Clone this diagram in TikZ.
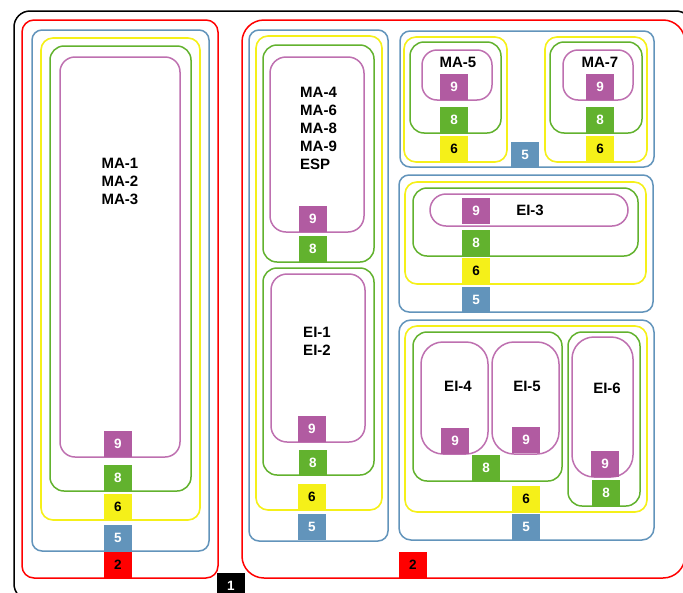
\documentclass[tikz,border=0pt]{standalone}
\usepackage{fontspec}
\setmainfont{Liberation Sans}
\definecolor{cRed}{RGB}{255,0,0}
\definecolor{cBlue}{RGB}{98,148,187}
\definecolor{cYellow}{RGB}{245,240,25}
\definecolor{cGreen}{RGB}{98,178,46}
\definecolor{cPurple}{RGB}{177,91,161}
\definecolor{cPurpleLine}{RGB}{190,112,176}
\tikzset{
  frame/.style={draw=black, line width=1.5pt, rounded corners=16pt},
  redzone/.style={draw=cRed, line width=1.5pt, rounded corners=#1},
  redzone/.default=12pt,
  bluezone/.style={draw=cBlue, line width=1.5pt, rounded corners=#1},
  bluezone/.default=10pt,
  yellowzone/.style={draw=cYellow, line width=1.6pt, rounded corners=#1},
  yellowzone/.default=12pt,
  greenzone/.style={draw=cGreen, line width=1.5pt, rounded corners=#1},
  greenzone/.default=14pt,
  purplezone/.style={draw=cPurpleLine, line width=1.5pt, rounded corners=#1},
  purplezone/.default=15pt,
  tag/.style={minimum width=28pt, minimum height=26pt, inner sep=0pt, anchor=south,
    font=\bfseries\fontsize{13.5}{14}\selectfont},
  tagA/.style={tag, fill=black, text=white},
  tagB/.style={tag, fill=cRed, text=black},
  tagC/.style={tag, fill=cBlue, text=white},
  tagD/.style={tag, fill=cYellow, text=black},
  tagE/.style={tag, fill=cGreen, text=white},
  tagF/.style={tag, fill=cPurple, text=white},
  label/.style={font=\bfseries\fontsize{15}{18}\selectfont, align=left, inner sep=0pt}
}
\begin{document}
\begin{tikzpicture}[x=1pt,y=-1pt]
\useasboundingbox (0,0) rectangle (683,592);
\clip (0,0) rectangle (683,592);
\fill[white] (0,0) rectangle (683,592);

% outer frame
\draw[frame] (14,11) rectangle (692,600);

% ---- left column ----
\draw[redzone] (22,20) rectangle (218,578);
\draw[bluezone] (32,30) rectangle (209,551);
\draw[yellowzone] (41,38) rectangle (200,520);
\draw[greenzone] (50,46) rectangle (191,491);
\draw[purplezone] (60,57) rectangle (180,457);
\node[label] (maA) at (120,181) {MA-1\\MA-2\\MA-3};
\node[tagF] (l9) at (118,457) {9};
\node[tagE] (l8) at (118,491) {8};
\node[tagD] (l6) at (118,520) {6};
\node[tagC] (l5) at (118,551) {5};
\node[tagB] (l2) at (118,578) {2};

% level-1 tag
\node[tagA] (t1) at (231,599) {1};

% ---- right part ----
\draw[redzone=22pt] (242,20) rectangle (685,578);
\node[tagB] (r2) at (413,578) {2};

% middle column
\draw[bluezone] (249,30) rectangle (388,541);
\draw[yellowzone] (256,36) rectangle (382,510);
\draw[greenzone] (263,45) rectangle (374,262);
\draw[purplezone=16pt] (270,57) rectangle (364,232);
\node[label, anchor=west] (maB) at (300,128) {MA-4\\MA-6\\MA-8\\MA-9\\ESP};
\node[tagF] (m9a) at (313,232) {9};
\node[tagE] (m8a) at (313,262) {8};
\draw[greenzone] (263,268) rectangle (374,475);
\draw[purplezone=16pt] (271,274) rectangle (365,442);
\node[label] (eiA) at (317,341) {EI-1\\EI-2};
\node[tagF] (m9b) at (312,442) {9};
\node[tagE] (m8b) at (313,476) {8};
\node[tagD] (m6) at (312,510) {6};
\node[tagC] (m5) at (312,540) {5};

% top-right group
\draw[bluezone] (400,31) rectangle (654,167);
\draw[yellowzone] (404,37) rectangle (507,162);
\draw[greenzone] (410,42) rectangle (501,133);
\draw[purplezone] (422,50) rectangle (492,100);
\node[label] (ma5) at (458,62) {MA-5};
\node[tagF] (a9) at (454,100) {9};
\node[tagE] (a8) at (454,133) {8};
\node[tagD] (a6) at (454,162) {6};
\draw[yellowzone] (545,37) rectangle (647,162);
\draw[greenzone] (550,42) rectangle (642,133);
\draw[purplezone] (563,50) rectangle (633,100);
\node[label] (ma7) at (600,62) {MA-7};
\node[tagF] (b9) at (600,100) {9};
\node[tagE] (b8) at (600,133) {8};
\node[tagD] (b6) at (600,162) {6};
\node[tagC] (ab5) at (525,168) {5};

% EI-3 group
\draw[bluezone] (399,175) rectangle (653,312);
\draw[yellowzone] (405,182) rectangle (646,284);
\draw[greenzone] (413,188) rectangle (638,256);
\draw[purplezone=16pt] (430,194) rectangle (628,226);
\node[label] (ei3) at (530,210) {EI-3};
\node[tagF] (c9) at (476,224) {9};
\node[tagE] (c8) at (476,256) {8};
\node[tagD] (c6) at (476,284) {6};
\node[tagC] (c5) at (476,313) {5};

% EI-4/5/6 group
\draw[bluezone=12pt] (399,320) rectangle (654,540);
\draw[yellowzone] (405,326) rectangle (647,512);
\draw[greenzone] (413,332) rectangle (562,481);
\draw[purplezone=22pt] (421,342) rectangle (488,454);
\draw[purplezone=22pt] (492,342) rectangle (559,454);
\node[label] (ei4) at (458,386) {EI-4};
\node[label] (ei5) at (527,386) {EI-5};
\node[tagF] (d9a) at (455,454) {9};
\node[tagF] (d9b) at (526,453) {9};
\node[tagE] (d8) at (486,481) {8};
\draw[greenzone] (568,332) rectangle (640,506);
\draw[purplezone=22pt] (572,337) rectangle (633,477);
\node[label] (ei6) at (607,388) {EI-6};
\node[tagF] (e9) at (605,477) {9};
\node[tagE] (e8) at (606,506) {8};
\node[tagD] (d6) at (526,512) {6};
\node[tagC] (d5) at (526,540) {5};
\end{tikzpicture}
\end{document}
